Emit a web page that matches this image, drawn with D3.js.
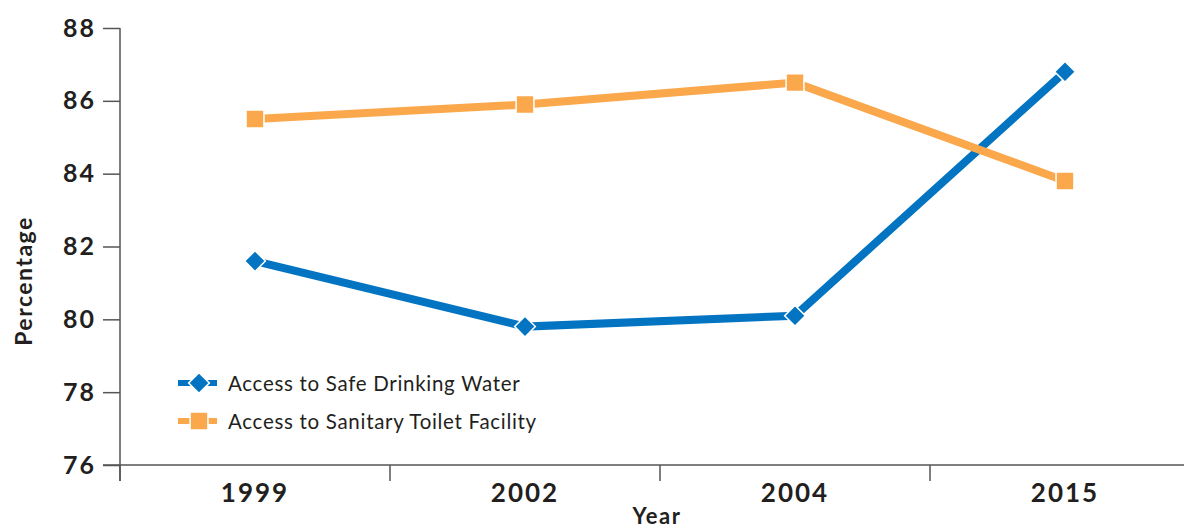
<!DOCTYPE html>
<html>
<head>
<meta charset="utf-8">
<script src="https://cdn.jsdelivr.net/npm/d3@7"></script>
<style>
  html, body { margin: 0; padding: 0; background: #ffffff; }
  svg { display: block; }
</style>
</head>
<body>
<svg id="chart" width="1184" height="528"></svg>
<script>
// Survey years and the two access indicators (percent of households)
const years = ["1999", "2002", "2004", "2015"];
const drinkingWater = [81.6, 79.8, 80.1, 86.8];
const sanitaryToilet = [85.5, 85.9, 86.5, 83.8];
const yTicks = [76, 78, 80, 82, 84, 86, 88];
const seriesNames = ["Access to Safe Drinking Water", "Access to Sanitary Toilet Facility"];

const BLUE = "#0274c1";
const ORANGE = "#faa84b";
const AXIS = "#555555";
const INK = "#231f20";
const FONT = "Lato, 'Open Sans', sans-serif";

const svg = d3.select("#chart");

const x = d3.scaleBand().domain(years).range([120, 1200]).padding(0);
const y = d3.scaleLinear().domain([76, 88]).range([465, 28]);
const cx = d => x(d) + x.bandwidth() / 2;

// Y axis: ticks with labels, spine runs below the baseline
const yAxis = d3.axisLeft(y).tickValues(yTicks).tickSize(17).tickSizeOuter(0).tickPadding(7);
const yg = svg.append("g").attr("transform", "translate(120,0)").call(yAxis);
yg.select(".domain").remove();
yg.selectAll(".tick line").attr("stroke", AXIS).attr("stroke-width", 1.5);
yg.selectAll(".tick text")
  .attr("fill", INK)
  .style("font-family", FONT)
  .style("font-weight", 700)
  .style("font-size", "25px")
  .style("letter-spacing", "2px");
svg.append("line")
  .attr("x1", 120).attr("x2", 120)
  .attr("y1", y(88)).attr("y2", y(76) + 16)
  .attr("stroke", AXIS).attr("stroke-width", 1.5);

// X axis: labels centred in each band, ticks on band boundaries
const xAxis = d3.axisBottom(x).tickSize(0).tickSizeOuter(0).tickPadding(19);
const xg = svg.append("g").attr("transform", `translate(0,${y(76)})`).call(xAxis);
xg.select(".domain").remove();
xg.selectAll(".tick text")
  .attr("fill", INK)
  .style("font-family", FONT)
  .style("font-weight", 700)
  .style("font-size", "26px")
  .style("letter-spacing", "2px");
svg.append("line")
  .attr("x1", 103).attr("x2", x.range()[1])
  .attr("y1", y(76)).attr("y2", y(76))
  .attr("stroke", AXIS).attr("stroke-width", 1.5);
const bounds = years.map(d => x(d)).concat([x.range()[1]]);
svg.append("g").selectAll("line").data(bounds).join("line")
  .attr("x1", d => d).attr("x2", d => d)
  .attr("y1", y(76)).attr("y2", y(76) + 16)
  .attr("stroke", AXIS).attr("stroke-width", 1.5);

// Axis titles
svg.append("text")
  .attr("transform", "translate(32,281) rotate(-90)")
  .attr("text-anchor", "middle")
  .attr("fill", INK)
  .style("font-family", FONT)
  .style("font-weight", 700)
  .style("font-size", "23px")
  .style("letter-spacing", "1.5px")
  .text("Percentage");
svg.append("text")
  .attr("x", (x.range()[0] + x.range()[1]) / 2 - 3)
  .attr("y", 524)
  .attr("text-anchor", "middle")
  .attr("fill", INK)
  .style("font-family", FONT)
  .style("font-weight", 700)
  .style("font-size", "22px")
  .style("letter-spacing", "1.5px")
  .text("Year");

// Series lines and markers
const series = [
  { name: seriesNames[0], values: drinkingWater, color: BLUE, shape: "diamond" },
  { name: seriesNames[1], values: sanitaryToilet, color: ORANGE, shape: "square" }
];
const line = d3.line().x((v, i) => cx(years[i])).y(v => y(v));

function marker(g, shape, color) {
  if (shape === "diamond") {
    g.append("path")
      .attr("d", d3.symbol(d3.symbolSquare, 215)())
      .attr("transform", "rotate(45)")
      .attr("fill", color).attr("stroke", "#fff").attr("stroke-width", 1.5);
  } else {
    g.append("path")
      .attr("d", d3.symbol(d3.symbolSquare, 320)())
      .attr("fill", color).attr("stroke", "#fff").attr("stroke-width", 1.5);
  }
}

series.forEach(s => {
  svg.append("path")
    .datum(s.values)
    .attr("d", line)
    .attr("fill", "none")
    .attr("stroke", s.color)
    .attr("stroke-width", 8)
    .attr("stroke-linejoin", "miter");
});
series.forEach(s => {
  s.values.forEach((v, i) => {
    const g = svg.append("g").attr("transform", `translate(${cx(years[i])},${y(v)})`);
    marker(g, s.shape, s.color);
  });
});

// Legend
const legend = svg.append("g");
series.forEach((s, i) => {
  const ly = 383 + i * 38;
  legend.append("line")
    .attr("x1", 178).attr("x2", 217)
    .attr("y1", ly).attr("y2", ly)
    .attr("stroke", s.color).attr("stroke-width", 6);
  const g = legend.append("g").attr("transform", `translate(199,${ly})`);
  marker(g, s.shape, s.color);
  legend.append("text")
    .attr("x", 228).attr("y", ly)
    .attr("dominant-baseline", "central")
    .attr("fill", INK)
    .style("font-family", FONT)
    .style("font-size", "20.5px")
    .style("letter-spacing", "0.7px")
    .text(s.name);
});
</script>
</body>
</html>
